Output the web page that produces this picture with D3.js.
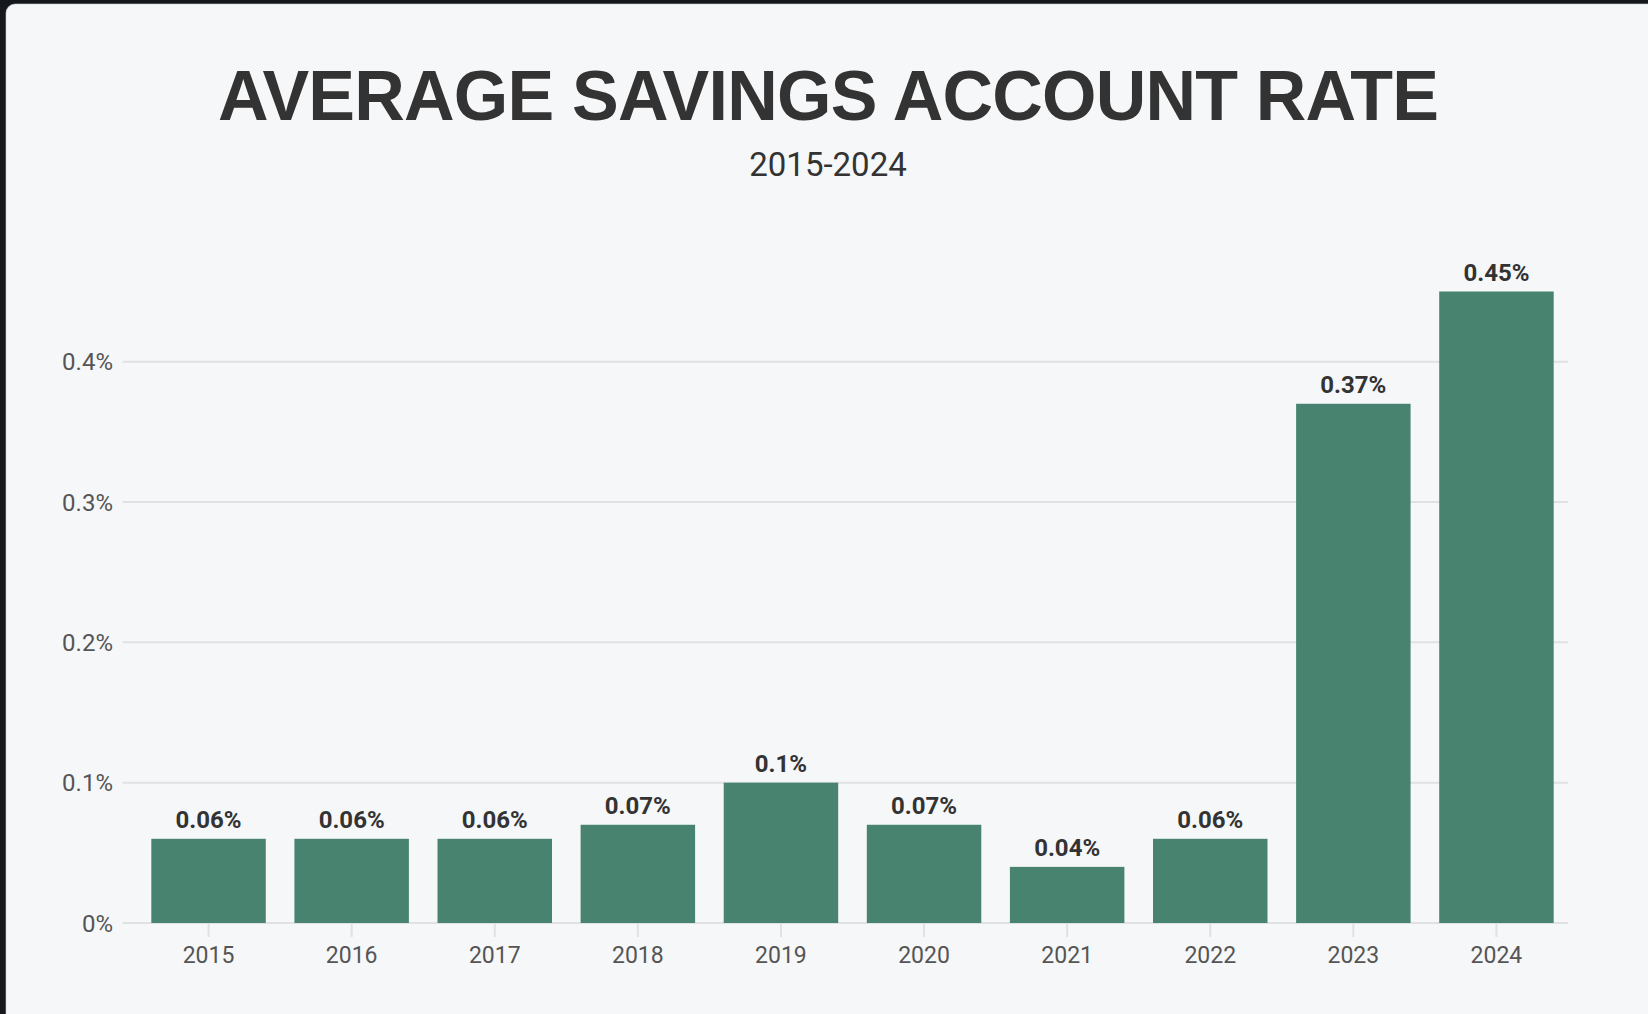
<!DOCTYPE html>
<html>
<head>
<meta charset="utf-8">
<script src="https://cdn.jsdelivr.net/npm/d3@7"></script>
<style>
  html, body { margin: 0; padding: 0; background: #15191d; }
  svg { display: block; }
  text { font-family: Roboto, "Liberation Sans", Arial, sans-serif; }
  text.title { font-family: "Liberation Sans", Arial, sans-serif; }
</style>
</head>
<body>
<div id="chart"></div>
<script>
/*data*/
const years = ['2015', '2016', '2017', '2018', '2019', '2020', '2021', '2022', '2023', '2024'];
const rates = [0.06, 0.06, 0.06, 0.07, 0.1, 0.07, 0.04, 0.06, 0.37, 0.45];
const yTicks = [0, 0.1, 0.2, 0.3, 0.4];
const title = 'AVERAGE SAVINGS ACCOUNT RATE';
const subtitle = '2015-2024';

const W = 1648, H = 1014;

let svg = d3.select('#chart')
  .append('svg')
  .attr('width', W)
  .attr('height', H);

/*card*/
svg.append('rect')
  .attr('x', 6).attr('y', 4)
  .attr('width', W + 20).attr('height', H + 20)
  .attr('rx', 9)
  .attr('fill', '#f6f7f9')
  .attr('stroke', '#c9ccd0')
  .attr('stroke-width', 0.6);

let x = d3.scaleBand()
  .domain(years)
  .range([137, 1568])
  .paddingInner(0.2)
  .paddingOuter(0.1);

let y = d3.scaleLinear()
  .domain([0, 0.45])
  .range([923, 291.5]);

const gridLeft = 122.7, gridRight = 1568;

/*title*/
svg.append('text')
  .attr('x', 828).attr('y', 120)
  .attr('text-anchor', 'middle')
  .attr('font-size', 70)
  .attr('font-weight', 700)
  .attr('fill', '#333333')
  .attr('class', 'title')
  .text(title);

svg.append('text')
  .attr('x', 828).attr('y', 176)
  .attr('text-anchor', 'middle')
  .attr('font-size', 33)
  .attr('fill', '#333333')
  .text(subtitle);

/*fit title width to the reference*/
let t = svg.select('.title');
let len = t.node().getComputedTextLength();
t.attr('letter-spacing', ((1221 - len) / (title.length - 1)) + 'px');

/*grid + y labels*/
let grid = svg.append('g');
grid.selectAll('line')
  .data(yTicks)
  .enter()
  .append('line')
  .attr('x1', gridLeft).attr('x2', gridRight)
  .attr('y1', d => y(d)).attr('y2', d => y(d))
  .attr('stroke', '#e0e1e3')
  .attr('stroke-width', 2);

grid.selectAll('text')
  .data(yTicks)
  .enter()
  .append('text')
  .attr('x', 113)
  .attr('y', d => y(d))
  .attr('dy', '0.36em')
  .attr('text-anchor', 'end')
  .attr('font-size', 24)
  .attr('fill', '#555555')
  .text(d => d3.format('~g')(+d.toFixed(2)) + '%');

/*x ticks + labels*/
let xa = svg.append('g');
xa.selectAll('line')
  .data(years)
  .enter()
  .append('line')
  .attr('x1', d => x(d) + x.bandwidth() / 2)
  .attr('x2', d => x(d) + x.bandwidth() / 2)
  .attr('y1', 924).attr('y2', 937)
  .attr('stroke', '#e0e1e3')
  .attr('stroke-width', 2);

xa.selectAll('text')
  .data(years)
  .enter()
  .append('text')
  .attr('x', d => x(d) + x.bandwidth() / 2)
  .attr('y', 963)
  .attr('text-anchor', 'middle')
  .attr('font-size', 23)
  .attr('fill', '#555555')
  .text(d => d);

/*bars*/
let bars = svg.append('g')
  .selectAll('g')
  .data(rates)
  .enter()
  .append('g');

bars.append('rect')
  .attr('x', (d, i) => x(years[i]))
  .attr('y', d => y(d))
  .attr('width', x.bandwidth())
  .attr('height', d => y(0) - y(d))
  .attr('fill', '#47836f');

bars.append('text')
  .attr('x', (d, i) => x(years[i]) + x.bandwidth() / 2)
  .attr('y', d => y(d) - 11)
  .attr('text-anchor', 'middle')
  .attr('font-size', 24)
  .attr('font-weight', 700)
  .attr('fill', '#333333')
  .text(d => d + '%');
</script>
</body>
</html>
